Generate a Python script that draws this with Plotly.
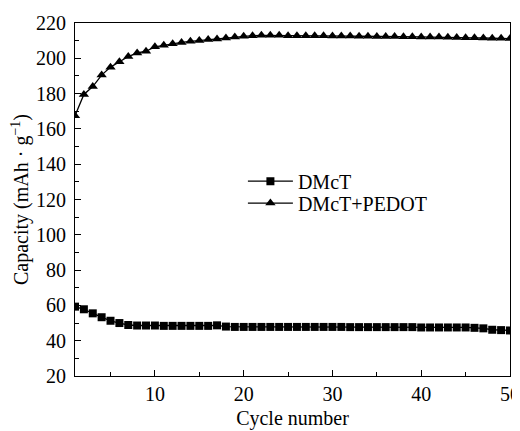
import plotly.graph_objects as go

cycles = list(range(1, 51))
dmct = [59.3, 57.8, 55.5, 53.3, 51.3, 50.0, 48.9, 48.6, 48.6, 48.6,
        48.4, 48.4, 48.4, 48.4, 48.4, 48.4, 48.7, 48.0, 47.8, 47.8,
        47.8, 47.8, 47.8, 47.8, 47.8, 47.8, 47.8, 47.8, 47.8, 47.8,
        47.8, 47.7, 47.7, 47.7, 47.7, 47.7, 47.7, 47.7, 47.7, 47.5,
        47.5, 47.5, 47.5, 47.5, 47.5, 47.3, 47.0, 46.2, 46.0, 45.8]
pedot = [167.5, 179.5, 184.0, 190.5, 195.0, 198.0, 201.0, 203.0, 204.0, 206.5,
         207.4, 208.3, 209.0, 209.6, 210.1, 210.6, 211.0, 211.5, 212.0, 212.5,
         212.8, 213.0, 213.0, 213.0, 212.8, 212.8, 212.8, 212.8, 212.8, 212.7,
         212.7, 212.6, 212.5, 212.5, 212.4, 212.3, 212.3, 212.2, 212.2, 212.1,
         212.0, 212.0, 211.9, 211.8, 211.7, 211.6, 211.5, 211.4, 211.3, 211.2]

font = dict(family="Liberation Serif", color="black", size=20)

fig = go.Figure()
fig.add_trace(go.Scatter(x=cycles, y=dmct, name="DMcT", mode="lines+markers",
                         legend="legend",
                         line=dict(color="black", width=1.3),
                         marker=dict(symbol="square", size=8, color="black")))
fig.add_trace(go.Scatter(x=cycles, y=pedot, name="DMcT+PEDOT", mode="lines+markers",
                         legend="legend2",
                         line=dict(color="black", width=1.3),
                         marker=dict(symbol="triangle-up", size=9, color="black")))

axis_common = dict(showline=True, linecolor="black", linewidth=1.2, mirror=True,
                   ticks="inside", ticklen=6, tickwidth=1.2, tickcolor="black",
                   showgrid=False, zeroline=False, tickfont=font, automargin=False)

leg_common = dict(xanchor="left", yanchor="middle", bgcolor="rgba(0,0,0,0)",
                  font=font, itemwidth=45)

fig.update_layout(
    width=512, height=423,
    margin=dict(l=67, r=10, t=15, b=55),
    paper_bgcolor="white", plot_bgcolor="white",
    font=font,
    xaxis=dict(range=[1, 50], tickvals=[10, 20, 30, 40, 50],
               minor=dict(ticks="inside", ticklen=4, tickwidth=1.2, tickcolor="black",
                          tickvals=[5, 15, 25, 35, 45]),
               title=dict(text="Cycle number", font=font, standoff=6),
               **axis_common),
    yaxis=dict(range=[20, 220], dtick=20, tick0=0,
               minor=dict(ticks="inside", ticklen=4, tickwidth=1.2, tickcolor="black",
                          dtick=10, tick0=0),
               title=dict(text="Capacity (mAh · g<sup>−1</sup>)", font=font, standoff=9),
               ticklabelstandoff=4,
               **axis_common),
    legend=dict(x=0.386, y=0.552, **leg_common),
    legend2=dict(x=0.386, y=0.490, **leg_common),
    showlegend=True,
)

fig.write_html("out.html")
